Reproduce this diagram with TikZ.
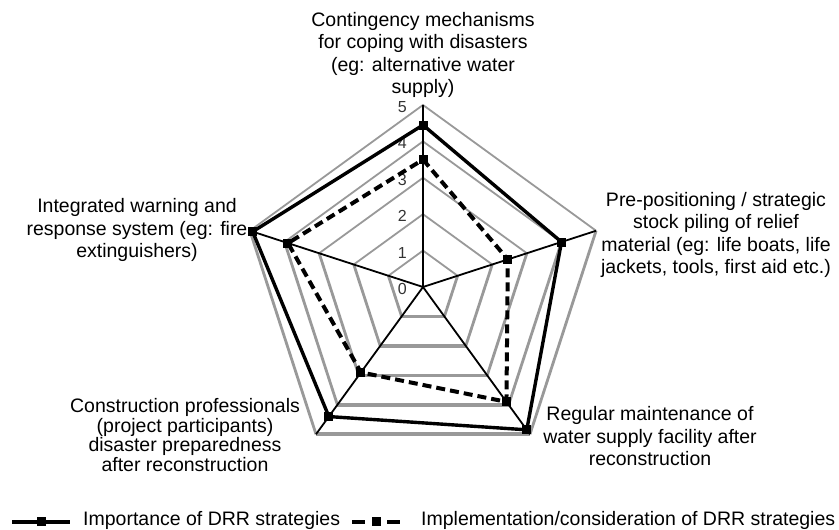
\documentclass[tikz,border=0pt]{standalone}
\usepackage{fontspec}
\setmainfont{Liberation Sans}
\usetikzlibrary{calc}
\def\R{36.4}
\tikzset{
	gridup/.style={line width=1.8pt, color=black!40},
	gridside/.style={line width=2.8pt, color=black!40},
	gridbase/.style={line width=3.6pt, color=black!40},
	spoke/.style={line width=1.8pt, color=black},
	importance/.style={line width=3.4pt, line join=miter},
	implementation/.style={line width=4pt, dash pattern=on 9pt off 5pt},
	sqmark/.style={rectangle, fill=black, minimum size=9pt, inner sep=0pt},
	axislabel/.style={font=\fontsize{19.5}{22.5}\selectfont, align=center},
	ticklabel/.style={font=\fontsize{16}{16}\selectfont, anchor=east, inner sep=0pt, text=black!80},
	legendtext/.style={font=\fontsize{19.5}{22.5}\selectfont, anchor=west, inner sep=0pt}
}

\begin{document}
\begin{tikzpicture}[x=1pt, y=1pt]
			%%%%% START %%%%%
			\useasboundingbox (0, 0) rectangle (839, 530);
			
			\begin{scope}[shift={(423, 243)}]
				% grid
				\foreach \k in {1,...,5}{
					\draw[gridup] (162:{\k*\R}) -- (90:{\k*\R}) -- (18:{\k*\R});
					\draw[gridside] (18:{\k*\R}) -- (-54:{\k*\R});
					\draw[gridside] (234:{\k*\R}) -- (162:{\k*\R});
					\draw[gridbase] (-54:{\k*\R}) -- (234:{\k*\R});
				}
				
				\coordinate (o) at (0, 0);
				\foreach \a in {90, 18, -54, 234, 162}
					\draw[spoke] (o) -- (\a:{5*\R});
				
				\foreach \k in {0,...,5}
					\node[ticklabel] (t\k) at (-16, {\k*\R-2}) {\k};
				
				% importance
				\coordinate (i1) at (90:{4.45*\R});
				\coordinate (i2) at (18:{4.0*\R});
				\coordinate (i3) at (-54:{4.85*\R});
				\coordinate (i4) at (234:{4.4*\R});
				\coordinate (i5) at (162:{4.92*\R});
				
				% implementation
				\coordinate (p1) at (90:{3.5*\R});
				\coordinate (p2) at (18:{2.45*\R});
				\coordinate (p3) at (-54:{3.9*\R});
				\coordinate (p4) at (234:{2.9*\R});
				\coordinate (p5) at (162:{3.9*\R});
			\end{scope}
			
			\draw[implementation] (p1) -- (p2) -- (p3) -- (p4) -- (p5) -- cycle;
			\draw[importance] (i1) -- (i2) -- (i3) -- (i4) -- (i5) -- cycle;
			\foreach \p in {i1, i2, i3, i4, i5, p1, p2, p3, p4, p5}
				\node[sqmark] (m\p) at (\p) {};
			
			% axis labels
			\node[axislabel] (contingency) at (423, 475) {Contingency mechanisms\\for coping with disasters\\(eg: alternative water\\supply)};
			\node[axislabel] (prepos) at (716, 295) {Pre-positioning / strategic\\stock piling of relief\\material (eg: life boats, life\\jackets, tools, first aid etc.)};
			\node[axislabel] (maint) at (650, 93.5) {Regular maintenance of\\water supply facility after\\reconstruction};
			\node[axislabel, font=\fontsize{19.5}{19.5}\selectfont] (constr) at (185, 95) {Construction professionals\\(project participants)\\disaster preparedness\\after reconstruction};
			\node[axislabel] (warning) at (137, 300) {Integrated warning and\\response system (eg: fire\\extinguishers)};
			
			% legend
			\coordinate (la1) at (12, 8);
			\coordinate (la2) at (70, 8);
			\draw[importance] (la1) -- (la2);
			\node[sqmark] (lam) at ($(la1)!0.5!(la2)$) {};
			\node[legendtext] (lat) at (83, 10) {Importance of DRR strategies};
			
			\coordinate (lb1) at (352, 8);
			\coordinate (lb2) at (400, 8);
			\draw[implementation, dash pattern=on 13pt off 22pt on 13pt] (lb1) -- (lb2);
			\node[sqmark] (lbm) at ($(lb1)!0.5!(lb2)$) {};
			\node[legendtext] (lbt) at (421, 10) {Implementation/consideration of DRR strategies};
			
			%%%%% END %%%%%
\end{tikzpicture}
\end{document}
